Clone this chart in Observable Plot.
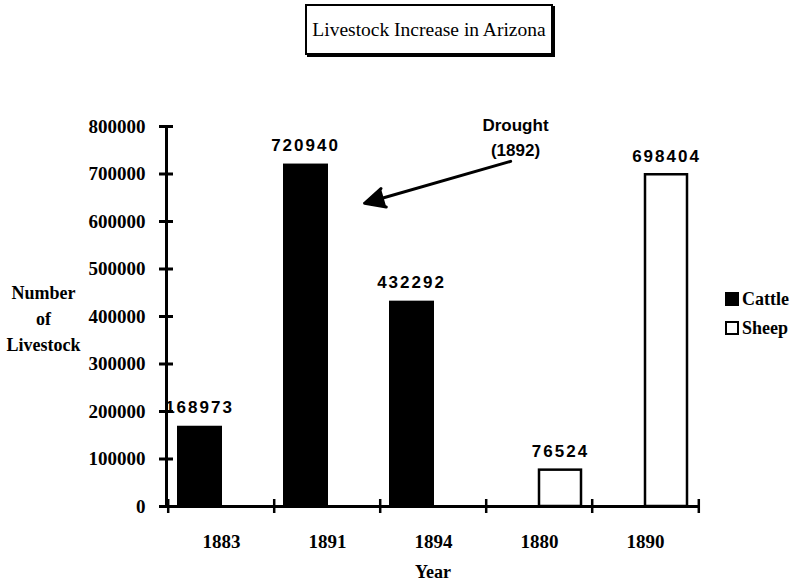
<!DOCTYPE html>
<html>
<head>
<meta charset="utf-8">
<script src="https://cdn.jsdelivr.net/npm/d3@7"></script>
<script src="https://cdn.jsdelivr.net/npm/@observablehq/plot@0.6"></script>
<style>
  html, body { margin: 0; padding: 0; background: #fff; }
  #wrap { position: relative; width: 792px; height: 587px; overflow: hidden; }
  #chart { position: absolute; left: 0; top: 0; }
  #title {
    position: absolute; left: 305px; top: 4px; width: 244px; height: 47px;
    border: 2px solid #000; box-shadow: 2px 2px 0 #000;
    font: 19.5px "Liberation Serif", serif; color: #000;
    text-align: center; line-height: 47px; box-sizing: content-box;
  }
  .leg { position: absolute; left: 725px; font: bold 18px "Liberation Serif", serif; color: #000; white-space: nowrap; }
  .sw { display: inline-block; width: 14px; height: 14px; box-sizing: border-box; vertical-align: -1px; margin-right: 3px; }
  .vlabel { letter-spacing: 2px; }
</style>
</head>
<body>
<div id="wrap">
  <div id="chart"></div>
  <div id="title"></div>
  <div id="legend"></div>
</div>
<script>
// ---- data ----
const titleText = "Livestock Increase in Arizona";
const years = ["1883", "1891", "1894", "1880", "1890"];
const species = ["Cattle", "Cattle", "Cattle", "Sheep", "Sheep"];
const counts = [168973, 720940, 432292, 76524, 698404];
const yTicks = [0, 100000, 200000, 300000, 400000, 500000, 600000, 700000, 800000];
const legendNames = ["Cattle", "Sheep"];
const xLabel = ["Year"];
const yLabel = ["Number\nof\nLivestock"];
const noteText = ["Drought\n(1892)"];
const noteX = ["1880"];
const arrowX = ["1880", "1891"];
const arrowY = [744000, 616000];

// ---- layout ----
const W = 792, H = 587, ML = 166, MR = 93, MT = 126, MB = 81;
const step = (W - ML - MR) / years.length;

const rows = years.map((year, i) => ({year, species: species[i], count: counts[i]}));
const cattle = rows.filter(d => d.species === "Cattle");
const sheep = rows.filter(d => d.species === "Sheep");

const serif = "Liberation Serif";
const sans = "Liberation Sans";

const chart = Plot.plot({
  width: W, height: H,
  marginLeft: ML, marginRight: MR, marginTop: MT, marginBottom: MB,
  style: {background: "white", color: "black", fontFamily: serif, overflow: "visible"},
  x: {type: "band", domain: years, padding: 0},
  y: {domain: [0, 800000]},
  marks: [
    Plot.barY(cattle, {x: "year", y: "count", fill: "black", insetLeft: 9, insetRight: 52}),
    Plot.barY(sheep, {x: "year", y: "count", fill: "white", stroke: "black", strokeWidth: 2.5, insetLeft: 53, insetRight: 11}),
    Plot.text(cattle, {x: "year", y: "count", text: d => String(d.count), dx: -22, dy: -13, lineAnchor: "bottom",
      fontFamily: sans, fontWeight: "bold", fontSize: 17, fill: "black", className: "vlabel"}),
    Plot.text(sheep, {x: "year", y: "count", text: d => String(d.count), dx: 21, dy: -13, lineAnchor: "bottom",
      fontFamily: sans, fontWeight: "bold", fontSize: 17, fill: "black", className: "vlabel"}),
    Plot.ruleY([0], {strokeWidth: 3}),
    Plot.frame({anchor: "left", strokeWidth: 3}),
    Plot.axisY({ticks: yTicks, tickSize: 0, tickPadding: 21, tickFormat: d => String(d),
      fontSize: 19, fontWeight: "bold", label: null}),
    Plot.axisY({ticks: yTicks, tickSize: 14, dx: 7, tickFormat: () => "", strokeWidth: 3, label: null}),
    Plot.axisX({tickSize: 0, tickPadding: 28, fontSize: 19, fontWeight: "bold", label: null}),
    Plot.axisX(years, {tickSize: 14, dx: -step / 2, dy: -7, tickFormat: () => "", strokeWidth: 2.5, label: null}),
    Plot.axisX([years[years.length - 1]], {tickSize: 14, dx: step / 2, dy: -7, tickFormat: () => "", strokeWidth: 2.5, label: null}),
    Plot.text(xLabel, {text: d => d, frameAnchor: "bottom", dy: 71, fontSize: 18, fontWeight: "bold"}),
    Plot.text(yLabel, {text: d => d, frameAnchor: "left", textAnchor: "middle", dx: -123, lineHeight: 1.45,
      fontSize: 18, fontWeight: "bold"}),
    Plot.text(noteText, {x: noteX, text: d => d, frameAnchor: "top", textAnchor: "middle", lineAnchor: "bottom", dy: 29, dx: -24,
      lineHeight: 1.47, fontFamily: sans, fontWeight: "bold", fontSize: 17}),
    Plot.arrow([0], {x1: [arrowX[0]], y1: [arrowY[0]], x2: [arrowX[1]], y2: [arrowY[1]],
      stroke: "black", fill: "black", strokeWidth: 3, headLength: 11, headAngle: 52,
      insetStart: 30, insetEnd: 38.6})
  ]
});
document.getElementById("chart").appendChild(chart);

document.getElementById("title").textContent = titleText;

const legend = document.getElementById("legend");
const legendTops = [289, 318];
legendNames.forEach((name, i) => {
  const row = document.createElement("div");
  row.className = "leg";
  row.style.top = legendTops[i] + "px";
  const sw = document.createElement("span");
  sw.className = "sw";
  sw.style.background = i === 0 ? "#000" : "#fff";
  sw.style.border = "2px solid #000";
  row.appendChild(sw);
  row.appendChild(document.createTextNode(name));
  legend.appendChild(row);
});
</script>
</body>
</html>
